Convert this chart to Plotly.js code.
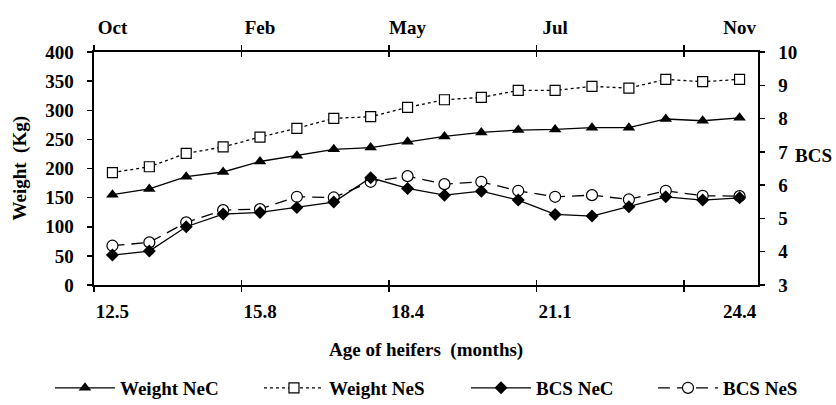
<!DOCTYPE html>
<html><head><meta charset="utf-8">
<script src="https://cdn.plot.ly/plotly-3.0.1.min.js"></script>
<style>html,body{margin:0;padding:0;background:#fff}#chart{width:836px;height:405px}</style>
</head><body><div id="chart"></div>
<script>
// Sampling occasions (18 weighings)
const samples = [1, 2, 3, 4, 5, 6, 7, 8, 9, 10, 11, 12, 13, 14, 15, 16, 17, 18];
const weightNeC = [155, 165, 186, 194, 212, 222, 233, 236, 246, 255, 262, 266, 267, 270, 270, 285, 282, 287];
const weightNeS = [193, 203, 226, 237, 254, 269, 286, 289, 305, 318, 322, 334, 334, 341, 338, 353, 349, 353];
const bcsNeC = [3.90, 4.02, 4.75, 5.13, 5.18, 5.33, 5.49, 6.22, 5.90, 5.70, 5.82, 5.55, 5.12, 5.07, 5.35, 5.65, 5.55, 5.62];
const bcsNeS = [4.18, 4.28, 4.88, 5.25, 5.28, 5.65, 5.63, 6.10, 6.27, 6.03, 6.10, 5.83, 5.65, 5.70, 5.57, 5.83, 5.68, 5.67];
const ageTickPos = [1, 5, 9, 13, 18];
const ageTickText = ['12.5', '15.8', '18.4', '21.1', '24.4'];
const monthTickText = ['Oct', 'Feb', 'May', 'Jul', 'Nov'];
const boundaryTicks = [0.5, 4.5, 8.5, 12.5, 16.5];

const FONT = 'Liberation Serif, Times New Roman, serif';
const bold = (size) => ({family: FONT, size: size, color: '#000', weight: 'bold'});
const xRange = [0.5, 18.5];
const NB2 = '\u00a0\u00a0';

const traces = [
  {x: samples, y: weightNeS, name: 'Weight NeS', type: 'scatter', mode: 'lines+markers', xaxis: 'x', yaxis: 'y',
   line: {color: '#000', width: 1.3, dash: 'dot'}, legendrank: 2, legendwidth: 132,
   marker: {symbol: 'square', size: 10, color: '#fff', line: {color: '#000', width: 1.2}}},
  {x: samples, y: weightNeC, name: 'Weight NeC', type: 'scatter', mode: 'lines+markers', xaxis: 'x2', yaxis: 'y',
   line: {color: '#000', width: 1.3}, legendrank: 1, legendwidth: 134,
   marker: {symbol: 'triangle-up', size: 11, color: '#000'}},
  {x: samples, y: bcsNeS, name: 'BCS NeS', type: 'scatter', mode: 'lines+markers', xaxis: 'x3', yaxis: 'y2',
   line: {color: '#000', width: 1.3, dash: '12px,7px'}, legendrank: 4, legendwidth: 80,
   marker: {symbol: 'circle', size: 11, color: '#fff', line: {color: '#000', width: 1.2}}},
  {x: samples, y: bcsNeC, name: 'BCS NeC', type: 'scatter', mode: 'lines+markers', xaxis: 'x4', yaxis: 'y2',
   line: {color: '#000', width: 1.3}, legendrank: 3, legendwidth: 112,
   marker: {symbol: 'diamond', size: 10, color: '#000'}}
];

const layout = {
  width: 836, height: 405,
  margin: {l: 94, r: 78, t: 52, b: 120, pad: 0, autoexpand: false},
  paper_bgcolor: '#fff', plot_bgcolor: '#fff',
  font: bold(19),
  showlegend: true,
  legend: {orientation: 'h', xref: 'paper', x: -0.0663, xanchor: 'left', y: -0.442, yanchor: 'middle',
           font: bold(19), itemwidth: 60,
           traceorder: 'normal', bgcolor: 'rgba(0,0,0,0)'},
  xaxis: {range: xRange, tickmode: 'array', tickvals: ageTickPos, ticktext: ageTickText,
          ticks: 'outside', ticklen: 5, tickcolor: 'rgba(0,0,0,0)', ticklabelstandoff: 3,
          tickfont: bold(19), showgrid: false, zeroline: false,
          showline: true, linecolor: '#000', linewidth: 2,
          minor: {tickmode: 'array', tickvals: boundaryTicks, ticks: 'outside', ticklen: 5, tickwidth: 1.5, tickcolor: '#000', showgrid: false}},
  xaxis2: {range: xRange, overlaying: 'x', anchor: 'y', side: 'top', tickmode: 'array', tickvals: ageTickPos, ticktext: monthTickText,
           ticks: 'outside', ticklen: 5, tickcolor: 'rgba(0,0,0,0)', ticklabelstandoff: 3,
           tickfont: bold(19), showgrid: false, zeroline: false,
           showline: true, linecolor: '#000', linewidth: 2,
           minor: {tickmode: 'array', tickvals: boundaryTicks, ticks: 'outside', ticklen: 5, tickwidth: 1.5, tickcolor: '#000', showgrid: false}},
  xaxis3: {range: xRange, overlaying: 'x', anchor: 'y2', side: 'bottom', tickmode: 'array', tickvals: boundaryTicks,
           ticks: 'inside', ticklen: 5, tickwidth: 1.5, tickcolor: '#000', showticklabels: false,
           showgrid: false, zeroline: false, showline: false},
  xaxis4: {range: xRange, overlaying: 'x', anchor: 'y2', side: 'top', tickmode: 'array', tickvals: boundaryTicks,
           ticks: 'inside', ticklen: 5, tickwidth: 1.5, tickcolor: '#000', showticklabels: false,
           showgrid: false, zeroline: false, showline: false},
  yaxis: {range: [0, 400], dtick: 50, tick0: 0, ticks: 'outside', ticklen: 5, tickwidth: 1.5, tickcolor: '#000',
          ticksuffix: NB2, tickfont: bold(19), showgrid: false, zeroline: false,
          showline: true, linecolor: '#000', linewidth: 2},
  yaxis2: {range: [3, 10], dtick: 1, tick0: 3, overlaying: 'y', side: 'right', anchor: 'x',
           ticks: 'outside', ticklen: 5, tickwidth: 1.5, tickcolor: '#000',
           tickprefix: NB2, tickfont: bold(19), showgrid: false, zeroline: false,
           showline: true, linecolor: '#000', linewidth: 2},
  annotations: [
    {text: 'Weight  (Kg)', xref: 'paper', yref: 'paper', x: 0, y: 0.5, xshift: -75, textangle: -90,
     showarrow: false, font: bold(19), xanchor: 'center', yanchor: 'middle'},
    {text: 'BCS', xref: 'paper', yref: 'paper', x: 1, y: 0.5, xshift: 55, yshift: 13,
     showarrow: false, font: bold(19), xanchor: 'center', yanchor: 'middle'},
    {text: 'Age of heifers  (months)', xref: 'paper', yref: 'paper', x: 0.5, y: 0, yshift: -65,
     showarrow: false, font: bold(19), xanchor: 'center', yanchor: 'middle'}
  ]
};

Plotly.newPlot('chart', traces, layout, {displayModeBar: false, staticPlot: true});
</script>
</body></html>
